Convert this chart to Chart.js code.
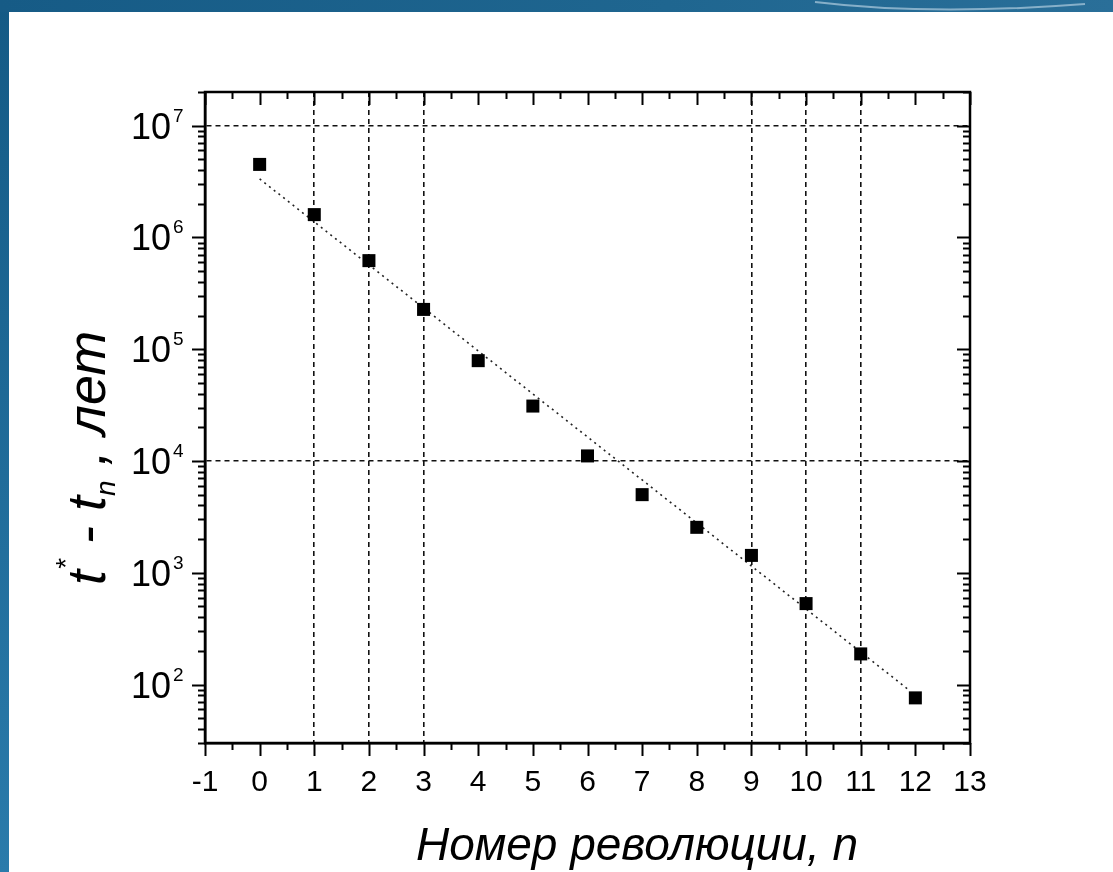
<!DOCTYPE html>
<html lang="ru">
<head>
  <meta charset="UTF-8">
  <title>t* - t_n от номера революции</title>
  <style>
    html, body { margin: 0; padding: 0; }
    body { width: 1113px; height: 872px; overflow: hidden; position: relative;
           background: linear-gradient(180deg, #145a85 0%, #2a7bab 100%); font-family: "Liberation Sans", Arial, sans-serif; }
    .topband { position: absolute; left: 0; top: 0; width: 1113px; height: 12px;
               background: linear-gradient(90deg, #165b86 0%, #1f6690 60%, #2a6f99 100%); }
    .sheet { position: absolute; left: 9px; top: 12px; right: 0; bottom: 0; background: #fff; }
    .swoosh { position: absolute; left: 0; top: 0; }
    #chart { position: absolute; left: 0; top: 0; }
  </style>
  <script src="https://cdn.jsdelivr.net/npm/chart.js"></script>
</head>
<body>
  <div class="topband"></div>
  <svg class="swoosh" width="1113" height="14">
    <path d="M 815 2 Q 930 16 1085 4" stroke="#9fc0d6" stroke-width="2" fill="none" opacity="0.8"/>
  </svg>
  <div class="sheet"></div>
  <canvas id="chart" width="1113" height="872"></canvas>

  <script>
    // values
    const revolutions = [0, 1, 2, 3, 4, 5, 6, 7, 8, 9, 10, 11, 12];
    const yearsLeft = [4.5e6, 1.6e6, 6.2e5, 2.27e5, 7.9e4, 3.1e4, 1.11e4, 5.0e3, 2.55e3, 1.43e3, 530, 188, 76];

    // dotted fit line, two end points
    const fitX = [0, 11.85];
    const fitY = [3.34e6, 92];

    // dashed reference lines
    const xGridAt = [1, 2, 3, 9, 10, 11];
    const yGridAt = [1e4, 1e7];

    // decade labels on the y axis
    const decadeExp = [2, 3, 4, 5, 6, 7];

    const xMin = -1, xMax = 13;
    const yMin = 30, yMax = 2e7;

    const sameLog = (a, b) => Math.abs(Math.log10(a) - Math.log10(b)) < 1e-6;

    const axisDecor = {
      id: 'axisDecor',
      afterDraw(chart) {
        const ctx = chart.ctx;
        const a = chart.chartArea;
        const xs = chart.scales.x, ys = chart.scales.y;
        ctx.save();
        ctx.strokeStyle = '#000';
        ctx.fillStyle = '#000';

        // frame
        ctx.lineWidth = 2.5;
        ctx.strokeRect(a.left, a.top, a.right - a.left, a.bottom - a.top);

        // x ticks: bottom outward, top inward
        ctx.lineWidth = 2;
        for (let v = xMin; v <= xMax + 1e-9; v += 0.5) {
          const px = Math.round(xs.getPixelForValue(v)) + 0.5;
          const len = Number.isInteger(v) ? 13 : 7;
          ctx.beginPath();
          ctx.moveTo(px, a.bottom); ctx.lineTo(px, a.bottom + len);
          ctx.moveTo(px, a.top); ctx.lineTo(px, a.top + len);
          ctx.stroke();
        }

        // y ticks: left outward, right inward
        for (let n = 1; n <= 7; n++) {
          for (let k = 1; k <= 9; k++) {
            const v = k * Math.pow(10, n);
            if (v < yMin || v > yMax) continue;
            const py = Math.round(ys.getPixelForValue(v)) + 0.5;
            const len = k === 1 ? 13 : 7;
            ctx.beginPath();
            ctx.moveTo(a.left - len, py); ctx.lineTo(a.left, py);
            ctx.moveTo(a.right - len, py); ctx.lineTo(a.right, py);
            ctx.stroke();
          }
        }

        // y decade labels 10^n
        decadeExp.forEach(e => {
          const py = ys.getPixelForValue(Math.pow(10, e));
          ctx.font = '36px "Liberation Sans", Arial, sans-serif';
          ctx.textAlign = 'right';
          ctx.textBaseline = 'alphabetic';
          ctx.fillText('10', 171, py + 13);
          ctx.font = '19px "Liberation Sans", Arial, sans-serif';
          ctx.textAlign = 'left';
          ctx.fillText(String(e), 173, py - 4);
        });

        // y title, rotated, reading upward
        ctx.translate(105, 585);
        ctx.rotate(-Math.PI / 2);
        ctx.textAlign = 'left';
        ctx.textBaseline = 'alphabetic';
        const big = 'italic 54px "Liberation Sans", Arial, sans-serif';
        const small = 'italic 28px "Liberation Sans", Arial, sans-serif';
        let cx = 0;
        const put = (txt, font, dy) => {
          ctx.font = font;
          ctx.fillText(txt, cx, dy);
          cx += ctx.measureText(txt).width;
        };
        put('t', big, 0);
        put('*', small, -30);
        put(' - t', big, 0);
        put('n', small, 10);
        put(' , лет', big, 0);
        ctx.setTransform(1, 0, 0, 1, 0, 0);

        // x title
        ctx.font = 'italic 46px "Liberation Sans", Arial, sans-serif';
        ctx.textAlign = 'center';
        ctx.fillText('Номер революции, n', 637, 860);

        ctx.restore();
      }
    };

    new Chart(document.getElementById('chart'), {
      type: 'scatter',
      plugins: [axisDecor],
      data: {
        datasets: [
          {
            label: 'данные',
            data: revolutions.map((n, i) => ({ x: n, y: yearsLeft[i] })),
            pointStyle: 'rect',
            pointRadius: 9.2,
            backgroundColor: '#000',
            borderColor: '#000',
            borderWidth: 0,
            order: 0
          },
          {
            label: 'аппроксимация',
            data: fitX.map((x, i) => ({ x: x, y: fitY[i] })),
            showLine: true,
            pointRadius: 0,
            borderColor: '#222',
            borderWidth: 1.6,
            borderDash: [2, 4],
            order: 1
          }
        ]
      },
      options: {
        responsive: false,
        animation: false,
        devicePixelRatio: 1,
        layout: { padding: { top: 92, right: 143, left: 0, bottom: 0 } },
        plugins: { legend: { display: false }, tooltip: { enabled: false } },
        scales: {
          x: {
            type: 'linear',
            min: xMin,
            max: xMax,
            afterFit: s => { s.height = 129; },
            ticks: {
              stepSize: 1,
              color: '#000',
              padding: 22,
              font: { family: '"Liberation Sans", Arial, sans-serif', size: 30 }
            },
            grid: {
              drawTicks: false,
              lineWidth: 1.6,
              color: c => (c.tick && xGridAt.includes(c.tick.value)) ? '#111' : 'rgba(0,0,0,0)'
            },
            border: { display: true, color: '#000', width: 2.5, dash: [5, 4] }
          },
          y: {
            type: 'logarithmic',
            min: yMin,
            max: yMax,
            afterFit: s => { s.width = 205; },
            ticks: { display: false },
            grid: {
              drawTicks: false,
              lineWidth: 1.6,
              color: c => (c.tick && yGridAt.some(g => sameLog(g, c.tick.value))) ? '#111' : 'rgba(0,0,0,0)'
            },
            border: { display: true, color: '#000', width: 2.5, dash: [5, 4] }
          }
        }
      }
    });
  </script>
</body>
</html>
